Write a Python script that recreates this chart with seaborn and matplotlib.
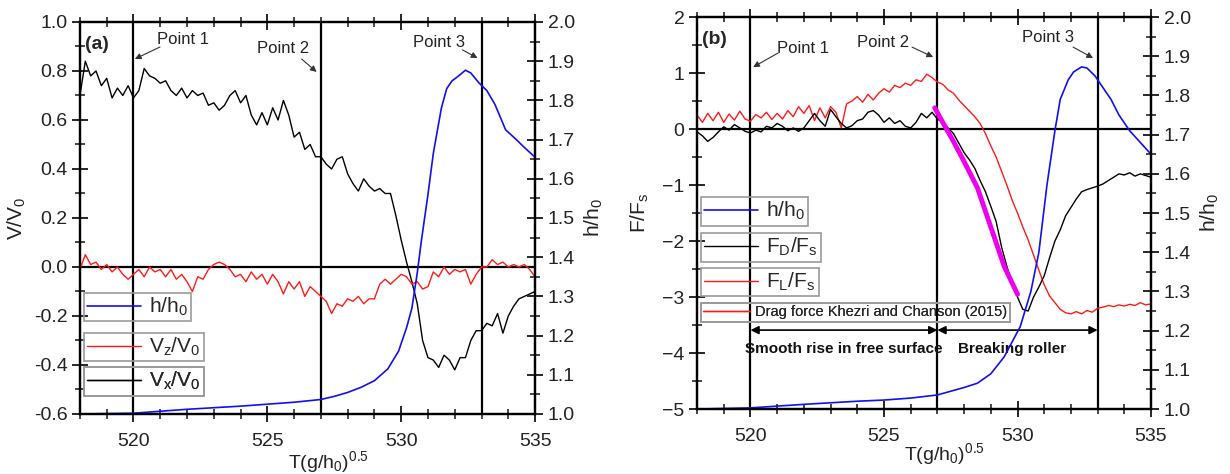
import numpy as np
import pandas as pd
import matplotlib
matplotlib.use("Agg")
import matplotlib.pyplot as plt
from matplotlib.ticker import MultipleLocator
import seaborn as sns

sns.set_theme(style="ticks")
plt.rcParams['font.family'] = ['Liberation Sans', 'DejaVu Sans']
plt.rcParams['mathtext.default'] = 'regular'

# ---------------- data ----------------
T_grid = np.round(np.arange(518.0, 535.001, 0.2), 1)

vx_a = [0.70, 0.84, 0.78, 0.80, 0.74, 0.77, 0.69, 0.73, 0.70, 0.74,
        0.69, 0.72, 0.81, 0.78, 0.77, 0.75, 0.76, 0.72, 0.70, 0.73,
        0.69, 0.72, 0.70, 0.71, 0.66, 0.67, 0.64, 0.66, 0.70, 0.72,
        0.67, 0.70, 0.62, 0.58, 0.63, 0.58, 0.65, 0.60, 0.68, 0.62,
        0.53, 0.55, 0.48, 0.50, 0.45, 0.45, 0.42, 0.40, 0.44, 0.45,
        0.38, 0.34, 0.31, 0.36, 0.33, 0.31, 0.32, 0.30, 0.30, 0.21,
        0.11, 0.02, -0.06, -0.15, -0.30, -0.37, -0.38, -0.41, -0.36, -0.38,
        -0.42, -0.37, -0.37, -0.30, -0.26, -0.26, -0.23, -0.24, -0.19, -0.27,
        -0.20, -0.16, -0.13, -0.12, -0.11, -0.10]

vz_a = [-0.01, 0.05, 0.01, 0.02, -0.01, 0.01, -0.02, 0.00, -0.03, -0.05,
        -0.03, -0.01, -0.04, 0.00, -0.02, -0.01, -0.04, -0.01, -0.05, -0.03,
        -0.06, -0.10, -0.04, -0.05, -0.01, 0.01, 0.02, 0.01, -0.01, -0.04,
        -0.03, -0.06, -0.02, -0.05, -0.03, -0.07, -0.03, -0.06, -0.11, -0.06,
        -0.09, -0.06, -0.12, -0.08, -0.10, -0.12, -0.14, -0.19, -0.15, -0.16,
        -0.13, -0.14, -0.12, -0.15, -0.13, -0.13, -0.07, -0.05, -0.07, -0.05,
        -0.03, -0.04, -0.07, -0.06, -0.09, -0.08, -0.02, -0.04, 0.00, -0.03,
        -0.01, -0.02, -0.01, -0.07, -0.03, 0.00, 0.00, 0.03, 0.01, 0.02,
        0.00, 0.01, 0.00, 0.01, -0.01, -0.04]

h_a_T = [518, 520, 522, 524, 525, 526, 527, 527.5, 528, 528.5, 529, 529.5,
         529.9, 530.2, 530.4, 530.6, 530.75, 531, 531.2, 531.5, 531.7, 531.9,
         532.1, 532.4, 532.6, 532.9, 533.2, 533.5, 533.9, 534.3, 534.6, 535.0]
h_a = [1.000, 1.002, 1.012, 1.020, 1.025, 1.030, 1.037, 1.045, 1.055, 1.068, 1.085, 1.115,
       1.160, 1.220, 1.270, 1.360, 1.440, 1.560, 1.665, 1.780, 1.830, 1.850,
       1.860, 1.877, 1.870, 1.845, 1.825, 1.790, 1.725, 1.700, 1.680, 1.655]

fl_b = [0.25, 0.12, 0.28, 0.15, 0.30, 0.12, 0.27, 0.16, 0.32, 0.18,
        0.14, 0.26, 0.20, 0.30, 0.17, 0.28, 0.18, 0.33, 0.22, 0.40,
        0.28, 0.42, 0.15, 0.38, 0.20, 0.40, 0.30, 0.02, 0.45, 0.50,
        0.58, 0.48, 0.62, 0.52, 0.64, 0.72, 0.66, 0.78, 0.74, 0.82,
        0.78, 0.88, 0.85, 0.98, 0.92, 0.84, 0.80, 0.70, 0.64, 0.52,
        0.42, 0.32, 0.22, 0.10, -0.08, -0.30, -0.50, -0.75, -1.00, -1.27,
        -1.50, -1.75, -1.98, -2.25, -2.52, -2.78, -2.98, -3.10, -3.22, -3.28,
        -3.30, -3.26, -3.30, -3.24, -3.27, -3.20, -3.18, -3.15, -3.17, -3.14,
        -3.16, -3.13, -3.15, -3.10, -3.14, -3.12]

fd_b = [-0.05, -0.12, -0.22, -0.15, -0.05, 0.04, -0.02, 0.08, 0.02, -0.04,
        -0.07, -0.02, -0.05, 0.05, 0.02, 0.10, 0.05, -0.03, 0.02, -0.04,
        0.02, 0.15, 0.28, 0.15, 0.05, 0.35, 0.22, 0.10, 0.02, 0.06,
        0.15, 0.18, 0.30, 0.33, 0.25, 0.12, 0.20, 0.10, 0.15, 0.05,
        0.02, 0.12, 0.28, 0.20, 0.30, 0.18, 0.12, 0.02, -0.08, -0.25,
        -0.42, -0.55, -0.70, -0.92, -1.12, -1.38, -1.65, -2.10, -2.45, -2.75,
        -3.00, -3.22, -3.25, -3.00, -2.82, -2.62, -2.30, -2.00, -1.80, -1.55,
        -1.40, -1.25, -1.12, -1.08, -1.05, -1.02, -0.98, -0.92, -0.86, -0.80,
        -0.82, -0.78, -0.84, -0.80, -0.83, -0.86]

h_b_T = [518, 520, 522, 524, 525, 526, 527, 528, 528.5, 529, 529.5, 530.1,
         530.5, 530.8, 531.1, 531.4, 531.6, 531.9, 532.1, 532.4, 532.6, 532.9,
         533.2, 533.5, 533.8, 534.2, 534.6, 535.0]
h_b = [1.000, 1.003, 1.012, 1.020, 1.023, 1.028, 1.036, 1.055, 1.066, 1.090, 1.133, 1.210,
       1.300, 1.400, 1.570, 1.710, 1.790, 1.840, 1.860, 1.873, 1.870, 1.850,
       1.820, 1.790, 1.750, 1.710, 1.680, 1.650]

khezri_T = [526.9, 527.2, 527.6, 528.0, 528.5, 529.0, 529.5, 530.0]
khezri_F = [0.38, 0.12, -0.22, -0.58, -1.05, -1.75, -2.45, -2.95]

points_T = [520, 527, 533]
point_labels = ["Point 1", "Point 2", "Point 3"]

BLUE = "#1010f0"
RED = "#ff1a1a"
MAG = "#ee00ee"

fig = plt.figure(figsize=(12.3, 4.74), dpi=100)
axA = fig.add_axes([0.065, 0.1266, 0.370, 0.827])
axB = fig.add_axes([0.5667, 0.137, 0.3691, 0.827])


def style_axes(ax, ax2, ylim, ymaj, ymin, xlab_y):
    ax.set_xlim(518, 535)
    ax.set_ylim(*ylim)
    ax2.set_ylim(1.0, 2.0)
    ax.xaxis.set_major_locator(MultipleLocator(5))
    ax.xaxis.set_minor_locator(MultipleLocator(1))
    ax.yaxis.set_major_locator(MultipleLocator(ymaj))
    ax.yaxis.set_minor_locator(MultipleLocator(ymin))
    ax2.yaxis.set_major_locator(MultipleLocator(0.1))
    ax2.yaxis.set_minor_locator(MultipleLocator(0.05))
    for a in (ax, ax2):
        for s in a.spines.values():
            s.set_linewidth(1.6)
            s.set_color("black")
            s.set_visible(True)
    ax.tick_params(axis="both", which="major", direction="inout", length=11, width=1.4,
                   labelsize=14, labelcolor="#222222", top=True, right=False)
    ax.tick_params(axis="both", which="minor", direction="inout", length=7, width=1.2,
                   top=True, right=False)
    ax.tick_params(axis="x", pad=8)
    ax2.tick_params(axis="y", which="major", direction="inout", length=11, width=1.4,
                    labelsize=14, labelcolor="#222222")
    ax2.tick_params(axis="y", which="minor", direction="inout", length=7, width=1.2)
    ax2.yaxis.set_major_formatter(matplotlib.ticker.FormatStrFormatter("%.1f"))
    ax.set_xlabel(r"T(g/h$_0$)$^{0.5}$", fontsize=14, color="#222222")
    ax.xaxis.set_label_coords(0.545, xlab_y)
    ax2.set_ylabel(r"h/h$_0$", fontsize=15, color="#222222", labelpad=6)
    for t in points_T:
        ax.axvline(t, color="black", lw=1.6, zorder=1)
    ax.axhline(0, color="black", lw=1.6, zorder=1)


def add_box_legend(host, handle, text, y, fs=15, hl=2.6):
    leg = host.legend(handles=[handle], labels=[text], loc="upper left",
                      bbox_to_anchor=(0.008, y), bbox_transform=host.transAxes,
                      frameon=True, fancybox=False, edgecolor="#999999",
                      facecolor="none", framealpha=1, fontsize=fs,
                      handlelength=hl, borderpad=0.15, borderaxespad=0,
                      handletextpad=0.4)
    leg.get_frame().set_linewidth(1.2)
    host.add_artist(leg)
    return leg


def point_annot(ax, label, text_xy, tail, head, fs=12):
    ax.text(text_xy[0], text_xy[1], label, fontsize=fs, color="#222222",
            ha="center", va="center", zorder=6)
    ax.annotate("", xy=head, xytext=tail,
                arrowprops=dict(arrowstyle="-|>", color="#333333", lw=0.8,
                                mutation_scale=9, shrinkA=0, shrinkB=0), zorder=6)


# ---------------- panel (a) ----------------
axA2 = axA.twinx()
df_a = pd.DataFrame({"T": T_grid, "Vx": vx_a, "Vz": vz_a})
sns.lineplot(data=df_a, x="T", y="Vx", ax=axA, color="black", lw=1.0,
             estimator=None, sort=False, zorder=3)
sns.lineplot(data=df_a, x="T", y="Vz", ax=axA, color=RED, lw=1.0,
             estimator=None, sort=False, zorder=3)
sns.lineplot(x=h_a_T, y=h_a, ax=axA2, color=BLUE, lw=1.2, estimator=None, sort=False)
style_axes(axA, axA2, (-0.6, 1.0), 0.2, 0.1, -0.09)
axA.yaxis.set_major_formatter(matplotlib.ticker.FormatStrFormatter("%.1f"))
axA.set_ylabel(r"V/V$_0$", fontsize=15, color="#222222", labelpad=4)
lvx, lvz = axA.get_lines()[0], axA.get_lines()[1]
lh_a = axA2.get_lines()[0]
add_box_legend(axA2, lh_a, r"h/h$_0$", 0.309)
add_box_legend(axA2, lvz, r"V$_z$/V$_0$", 0.207)
add_box_legend(axA2, lvx, r"V$_x$/V$_0$", 0.120)
axA2.text(0.012, 0.965, "(a)", transform=axA2.transAxes, fontsize=14,
          fontweight="bold", va="top", ha="left")
point_annot(axA, "Point 1", (521.84, 0.927), (520.99, 0.898), (520.05, 0.849))
point_annot(axA, "Point 2", (525.57, 0.890), (526.28, 0.849), (526.84, 0.796))
point_annot(axA, "Point 3", (531.43, 0.918), (532.29, 0.886), (532.85, 0.853))

# ---------------- panel (b) ----------------
axB2 = axB.twinx()
df_b = pd.DataFrame({"T": T_grid, "FD": fd_b, "FL": fl_b})
sns.lineplot(data=df_b, x="T", y="FL", ax=axB, color=RED, lw=1.0,
             estimator=None, sort=False, zorder=3)
sns.lineplot(data=df_b, x="T", y="FD", ax=axB, color="black", lw=1.0,
             estimator=None, sort=False, zorder=3)
sns.lineplot(x=khezri_T, y=khezri_F, ax=axB, color=MAG, lw=3.5,
             estimator=None, sort=False, zorder=4)
sns.lineplot(x=h_b_T, y=h_b, ax=axB2, color=BLUE, lw=1.2, estimator=None, sort=False)
style_axes(axB, axB2, (-5, 2), 1, 0.5, -0.082)
axB.set_ylabel(r"F/F$_s$", fontsize=15, color="#222222", labelpad=8)
lfl, lfd = axB.get_lines()[0], axB.get_lines()[1]
lh_b = axB2.get_lines()[0]
add_box_legend(axB2, lh_b, r"h/h$_0$", 0.541)
add_box_legend(axB2, lfd, r"F$_D$/F$_s$", 0.449)
add_box_legend(axB2, lfl, r"F$_L$/F$_s$", 0.360)
add_box_legend(axB2, lfl, "Drag force Khezri and Chanson (2015)", 0.270, fs=10.5, hl=3.2)
axB2.text(0.012, 0.965, "(b)", transform=axB2.transAxes, fontsize=14,
          fontweight="bold", va="top", ha="left")
point_annot(axB, "Point 1", (521.97, 1.446), (521.03, 1.357), (520.10, 1.107))
point_annot(axB, "Point 2", (524.97, 1.554), (526.05, 1.464), (526.84, 1.286))
point_annot(axB, "Point 3", (531.15, 1.643), (532.08, 1.464), (532.83, 1.268))

# phase arrows
for (t0, t1) in [(520, 527), (527, 533)]:
    axB.annotate("", xy=(t1, -3.59), xytext=(t0, -3.59),
                 arrowprops=dict(arrowstyle="<|-|>", color="black", lw=1.2,
                                 mutation_scale=12, shrinkA=0, shrinkB=0), zorder=6)
axB.text(523.5, -3.92, "Smooth rise in free surface", fontsize=11, fontweight="bold",
         ha="center", va="center", color="#111111", zorder=6)
axB.text(529.8, -3.92, "Breaking roller", fontsize=11, fontweight="bold",
         ha="center", va="center", color="#111111", zorder=6)

fig.savefig("out.png", dpi=100)
